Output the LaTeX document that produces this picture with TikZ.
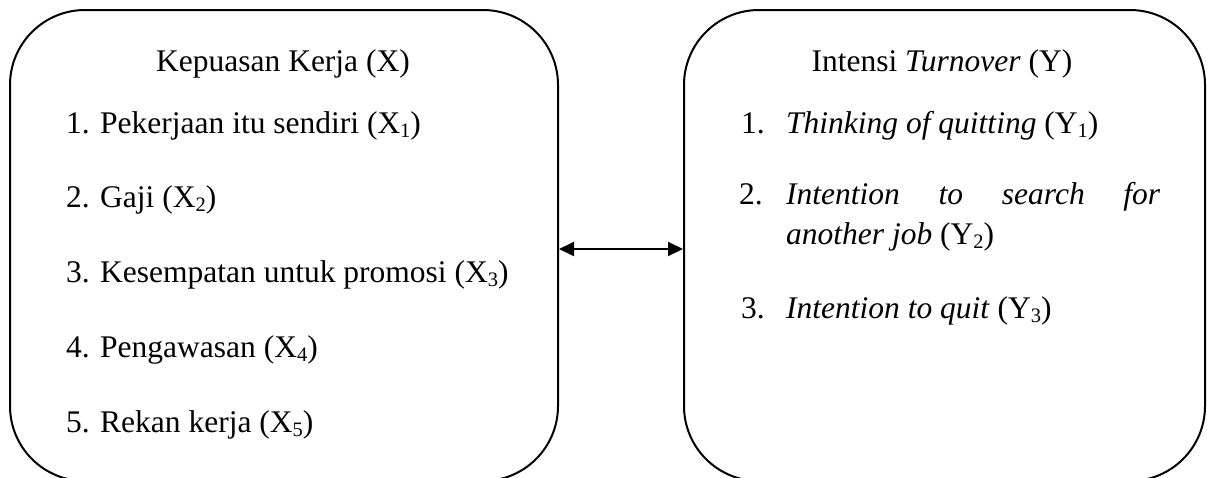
\documentclass[tikz,border=0pt]{standalone}
\usepackage{fontspec}
\setmainfont{Liberation Serif}
\usetikzlibrary{arrows.meta}
\newcommand\fs{\fontsize{31.5}{38}\selectfont}
\newcommand\mysub[1]{\raisebox{-0.14em}{\fontsize{20.5}{20}\selectfont #1}}
\begin{document}
\begin{tikzpicture}[x=1pt,y=-1pt,
  box/.style={draw, line width=2pt, rounded corners=75pt, minimum width=#1, minimum height=471pt, anchor=north west, inner sep=0pt},
  txt/.style={anchor=base west, inner sep=0pt, font=\fs},
  ttl/.style={anchor=base, inner sep=0pt, font=\fs},
  link/.style={line width=2pt, {Triangle[length=15pt,width=14pt]}-{Triangle[length=15pt,width=14pt]}}]
\useasboundingbox (0,0) rectangle (1207,477);
\node[box=548pt] (X) at (9,9) {};
\node[box=521pt] (Y) at (683,9) {};
\coordinate (ay) at (0,249);
\draw[link] (X.east |- ay) -- (Y.west |- ay);
% left box
\node[ttl] (xt) at (283,71) {Kepuasan Kerja (X)};
\node[txt] (x1n) at (66,133) {1.};
\node[txt] (x1) at (100,133) {Pekerjaan itu sendiri (X\mysub{1})};
\node[txt] (x2n) at (66,207) {2.};
\node[txt] (x2) at (100,207) {Gaji (X\mysub{2})};
\node[txt] (x3n) at (66,282) {3.};
\node[txt] (x3) at (100,282) {Kesempatan untuk promosi (X\mysub{3})};
\node[txt] (x4n) at (66,357) {4.};
\node[txt] (x4) at (100,357) {Pengawasan (X\mysub{4})};
\node[txt] (x5n) at (66,432) {5.};
\node[txt] (x5) at (100,432) {Rekan kerja (X\mysub{5})};
% right box
\node[ttl] (yt) at (942,71) {Intensi \textit{Turnover} (Y)};
\node[txt] (y1n) at (741,133) {1.};
\node[txt] (y1) at (786,133) {\textit{Thinking of quitting} (Y\mysub{1})};
\node[txt] (y2n) at (739,204) {2.};
\node[txt] (y2a) at (786,204) {\makebox[374pt][s]{\itshape Intention to search for}};
\node[txt] (y2b) at (786,244) {\textit{another job} (Y\mysub{2})};
\node[txt] (y3n) at (741,318) {3.};
\node[txt] (y3) at (786,318) {\textit{Intention to quit} (Y\mysub{3})};
\end{tikzpicture}
\end{document}
